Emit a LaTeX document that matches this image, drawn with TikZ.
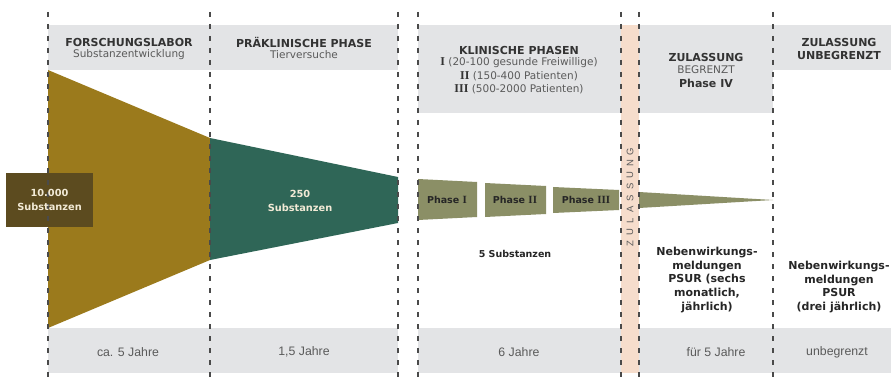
\documentclass[tikz,border=0pt]{standalone}
\usepackage{fontspec}
\setmainfont{DejaVu Sans}
\newfontfamily\arialf{Liberation Sans}
\newfontfamily\serif{Liberation Serif}
\definecolor{hgray}{HTML}{E3E4E6}
\definecolor{peach}{HTML}{F6DDCC}
\definecolor{gold}{HTML}{9B7A1C}
\definecolor{dgreen}{HTML}{2F6657}
\definecolor{dbox}{HTML}{5C4B1F}
\definecolor{olive}{HTML}{8B8F66}
\definecolor{dline}{HTML}{4A4A4A}
\definecolor{htext}{HTML}{333333}
\definecolor{rtext}{HTML}{5A5A5A}
\definecolor{cream}{HTML}{F2EAD6}
\newcommand{\rnum}[2]{{\serif\bfseries\fontsize{#1}{#1}\selectfont #2}}
\tikzset{
  dl/.style={draw=dline,line width=1.2pt,dash pattern=on 5pt off 7pt},
  hbold/.style={inner sep=0pt,text=htext,font=\fontsize{11}{13}\selectfont\bfseries},
  hreg/.style={inner sep=0pt,text=rtext,font=\fontsize{10.5}{13}\selectfont},
  btxt/.style={inner sep=0pt,text=rtext,font=\arialf\fontsize{12.3}{14}\selectfont},
  lbl/.style={inner sep=0pt,text=black!85,font=\fontsize{9.5}{12}\selectfont\bfseries},
  wlbl/.style={inner sep=0pt,text=cream,font=\fontsize{9.8}{13.5}\selectfont\bfseries,align=center},
  nb/.style={inner sep=0pt,text=black!85,font=\fontsize{11}{13.75}\selectfont\bfseries,align=center},
  zl/.style={inner sep=0pt,text=rtext,rotate=90,font=\arialf\fontsize{9.5}{10}\selectfont}
}
\begin{document}
\begin{tikzpicture}[x=1pt,y=-1pt]
\useasboundingbox (0,0) rectangle (891,382);
\fill[white] (0,0) rectangle (891,382);
% header bands
\fill[hgray] (48,25) rectangle (398,70);
\fill[hgray] (418,25) rectangle (621,113);
\fill[hgray] (639,25) rectangle (773,113);
\fill[hgray] (773,25) rectangle (891,70);
% bottom bands
\fill[hgray] (48,328) rectangle (398,373);
\fill[hgray] (418,328) rectangle (621,373);
\fill[hgray] (639,328) rectangle (891,373);
% approval band
\fill[peach] (621,25) rectangle (639,373);
% funnel
\fill[gold] (48,70) -- (210,138) -- (210,260) -- (48,328) -- cycle;
\fill[dgreen] (210,138) -- (398,177) -- (398,223) -- (210,260) -- cycle;
\fill[dbox] (6,173) rectangle (93,227);
\fill[olive] (418,179) -- (477,182) -- (477,217) -- (418,220) -- cycle;
\fill[olive] (485,183) -- (546,186) -- (546,214) -- (485,217) -- cycle;
\fill[olive] (553,187) -- (619,190) -- (619,210) -- (553,213) -- cycle;
\fill[olive] (639,192) -- (773,200) -- (639,208) -- cycle;
% dashed lines
\foreach \x in {48,210,398,418,621,639,773} \draw[dl] (\x,12) -- (\x,382);
% header texts
\node[hbold] (h1) at (129,42) {FORSCHUNGSLABOR};
\node[hreg] (h1s) at (129,55) {Substanzentwicklung};
\node[hbold] (h2) at (304,42) {PRÄKLINISCHE PHASE};
\node[hreg] (h2s) at (304,55) {Tierversuche};
\node[hbold] (h3) at (519,50) {KLINISCHE PHASEN};
\node[hreg] (h3a) at (519,63) {{\color{htext}\rnum{12}{I}} (20-100 gesunde Freiwillige)};
\node[hreg] (h3b) at (519,76) {{\color{htext}\rnum{12}{II}} (150-400 Patienten)};
\node[hreg] (h3c) at (519,89) {{\color{htext}\rnum{12}{III}} (500-2000 Patienten)};
\node[hbold] (h4) at (706,57) {ZULASSUNG};
\node[hreg] (h4s) at (706,70) {BEGRENZT};
\node[hbold] (h4p) at (706,83) {Phase IV};
\node[hbold] (h5) at (839,42) {ZULASSUNG};
\node[hbold] (h5b) at (839,55) {UNBEGRENZT};
% body labels
\node[wlbl] (s1) at (49.5,200) {10.000\\Substanzen};
\node[wlbl] (s2) at (300,201) {250\\Substanzen};
\node[lbl] (p1) at (447,200) {Phase \rnum{11}{I}};
\node[lbl] (p2) at (515,200) {Phase \rnum{11}{II}};
\node[lbl] (p3) at (586,200) {Phase \rnum{11}{III}};
\node[lbl] (s3) at (515,254) {5 Substanzen};
\node[nb] (n1) at (707,280) {Nebenwirkungs-\\meldungen\\PSUR (sechs\\monatlich,\\jährlich)};
\node[nb] (n2) at (839,287) {Nebenwirkungs-\\meldungen\\PSUR\\(drei jährlich)};
% vertical approval text
\foreach \l [count=\i] in {Z,U,L,A,S,S,U,N,G}
  \node[zl] (z\i) at (630,{244-(\i-1)*11.5}) {\l};
% bottom texts
\node[btxt] (b1) at (128,352) {ca. 5 Jahre};
\node[btxt] (b2) at (304,352) {1,5 Jahre};
\node[btxt] (b3) at (519,352) {6 Jahre};
\node[btxt] (b4) at (716,352) {für 5 Jahre};
\node[btxt] (b5) at (837,352) {unbegrenzt};
\end{tikzpicture}
\end{document}
